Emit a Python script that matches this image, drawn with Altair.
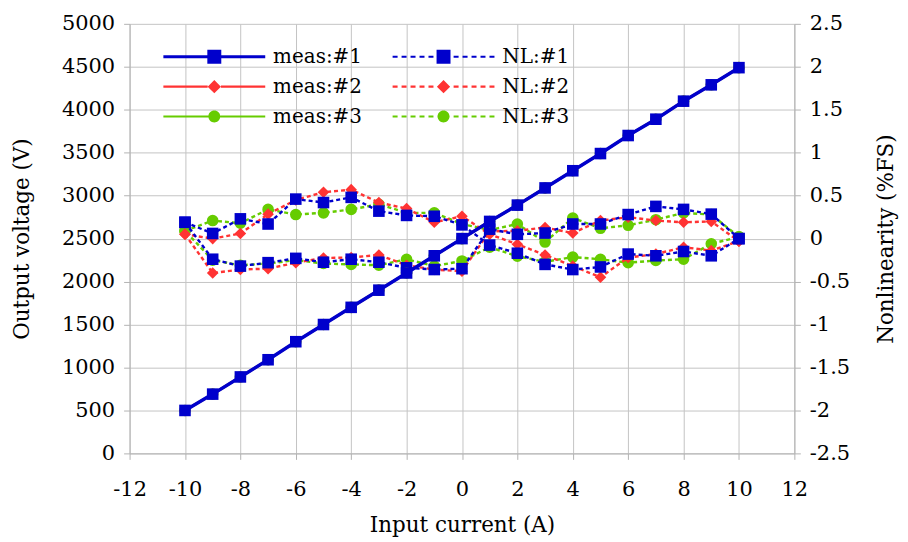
import altair as alt
import pandas as pd

# ---------------- data ----------------
x_vals = [-10, -9, -8, -7, -6, -5, -4, -3, -2, -1, 0, 1, 2, 3, 4, 5, 6, 7, 8, 9, 10]

meas1 = [500, 690, 890, 1090, 1300, 1500, 1700, 1900, 2100, 2300, 2500,
         2700, 2890, 3090, 3290, 3490, 3700, 3890, 4100, 4290, 4490]
meas2 = [500, 690, 890, 1090, 1300, 1500, 1700, 1900, 2100, 2300, 2500,
         2700, 2890, 3090, 3290, 3490, 3700, 3890, 4100, 4290, 4490]
meas3 = [500, 690, 890, 1090, 1300, 1500, 1700, 1900, 2100, 2300, 2500,
         2700, 2890, 3090, 3290, 3490, 3700, 3890, 4100, 4290, 4490]

# nonlinearity, two branches each (x = -10 .. 10)
nl1_a = [0.19, 0.06, 0.23, 0.17, 0.46, 0.42, 0.48, 0.32, 0.27, 0.26, 0.16,
         -0.075, -0.17, -0.30, -0.36, -0.33, -0.18, -0.20, -0.15, -0.20, 0.0]
nl1_b = [0.19, -0.24, -0.32, -0.28, -0.23, -0.275, -0.24, -0.275, -0.34, -0.36, -0.35,
         0.11, 0.05, 0.065, 0.17, 0.17, 0.28, 0.375, 0.34, 0.285, 0.0]

nl2_a = [0.05, 0.0, 0.06, 0.285, 0.45, 0.54, 0.57, 0.42, 0.35, 0.19, 0.26,
         0.05, -0.065, -0.19, -0.32, -0.45, -0.22, -0.18, -0.10, -0.14, -0.03]
nl2_b = [0.05, -0.40, -0.36, -0.35, -0.28, -0.225, -0.22, -0.19, -0.31, -0.36, -0.38,
         0.085, 0.09, 0.13, 0.065, 0.21, 0.25, 0.21, 0.19, 0.20, -0.03]

nl3_a = [0.09, 0.21, 0.18, 0.34, 0.28, 0.30, 0.34, 0.40, 0.30, 0.30, 0.17,
         0.10, 0.17, -0.04, 0.24, 0.12, 0.155, 0.22, 0.30, 0.28, 0.02]
nl3_b = [0.09, -0.25, -0.31, -0.29, -0.25, -0.29, -0.30, -0.31, -0.24, -0.32, -0.26,
         -0.10, -0.205, -0.27, -0.215, -0.24, -0.28, -0.255, -0.24, -0.06, 0.02]

# legend order (filled column by column: meas in column 1, NL in column 2)
series_names = ["meas:#1", "meas:#2", "meas:#3", "NL:#1", "NL:#2", "NL:#3"]
BLUE, RED, GREEN = "#0000cc", "#ff3333", "#66cc00"
series_colors = [BLUE, RED, GREEN, BLUE, RED, GREEN]

x_ticks = [-12, -10, -8, -6, -4, -2, 0, 2, 4, 6, 8, 10, 12]
left_ticks = [0, 500, 1000, 1500, 2000, 2500, 3000, 3500, 4000, 4500, 5000]
right_ticks = [-2.5, -2, -1.5, -1, -0.5, 0, 0.5, 1, 1.5, 2, 2.5]

FONT = "DejaVu Serif"


# ---------------- legend symbol paths (style only) ----------------
def f(v):
    return ("%.3f" % v).rstrip("0").rstrip(".")


def rect(x0, x1, h):
    return "M%s,%sH%sV%sH%sZ" % (f(x0), f(-h), f(x1), f(h), f(x0))


def legend_path(marker, dashed, thick_px):
    unit = 7.0
    half = 7.3
    h = thick_px / 2 / unit
    if marker == "square":
        m, mk = 1.0, "M-1,-1H1V1H-1Z"
    elif marker == "diamond":
        m, mk = 0.95, "M0,-0.95L0.95,0L0,0.95L-0.95,0Z"
    else:
        m, mk = 0.85, "M-0.85,0A0.85,0.85,0,1,1,0.85,0A0.85,0.85,0,1,1,-0.85,0Z"
    parts = []
    if not dashed:
        parts.append(rect(-half, -m, h))
        parts.append(rect(m, half, h))
    else:
        dash, gap = 5 / unit, 4 / unit
        x = -half
        while x < -m:
            parts.append(rect(x, min(x + dash, -m), h))
            parts.append(rect(-min(x + dash, -m), -x, h))
            x += dash + gap
    parts.append(mk)
    return "".join(parts)


legend_paths = [
    legend_path("square", False, 3.2),
    legend_path("diamond", False, 2.2),
    legend_path("circle", False, 2.2),
    legend_path("square", True, 2.2),
    legend_path("diamond", True, 2.2),
    legend_path("circle", True, 2.2),
]

# ---------------- scales / axes ----------------
xscale = alt.Scale(domain=[-12, 12], nice=False, zero=False)
yleft = alt.Scale(domain=[0, 5000], nice=False)
yright = alt.Scale(domain=[-2.5, 2.5], nice=False)

x_axis = alt.Axis(values=x_ticks, title="Input current (A)", grid=True,
                  labelExpr="datum.value + ''", tickSize=6, labelPadding=19,
                  labelFlush=False, titlePadding=15)
left_axis = alt.Axis(values=left_ticks, title="Output voltage (V)", grid=True,
                     orient="left", labelExpr="datum.value + ''", tickSize=6,
                     labelPadding=9, titlePadding=28)
right_axis = alt.Axis(values=right_ticks, title="Nonlinearity (%FS)", grid=False,
                      orient="right", labelExpr="datum.value + ''", tickSize=6,
                      labelPadding=9, titlePadding=26, titleAngle=270,
                      titleBaseline="top")


def meas_df(vals):
    return pd.DataFrame({"x": x_vals, "y": vals})


def nl_loop_df(a, b):
    xs = list(x_vals) + list(reversed(x_vals))
    ys = list(a) + list(reversed(b))
    return pd.DataFrame({"x": xs, "y": ys, "o": list(range(len(xs)))})


def meas_layers(vals, color, shape, width):
    df = meas_df(vals)
    base = alt.Chart(df)
    line = base.mark_line(color=color, strokeWidth=width).encode(
        x=alt.X("x:Q", scale=xscale, axis=x_axis),
        y=alt.Y("y:Q", scale=yleft, axis=left_axis),
    )
    pts = base.mark_point(shape=shape, filled=True, color=color, size=135, opacity=1).encode(
        x=alt.X("x:Q", scale=xscale, axis=x_axis),
        y=alt.Y("y:Q", scale=yleft, axis=left_axis),
    )
    return [line, pts]


def nl_layers(a, b, color, shape):
    df = nl_loop_df(a, b)
    base = alt.Chart(df)
    line = base.mark_line(color=color, strokeWidth=2.4, strokeDash=[4, 3]).encode(
        x=alt.X("x:Q", scale=xscale, axis=x_axis),
        y=alt.Y("y:Q", scale=yright, axis=right_axis),
        order="o:Q",
    )
    pts = base.mark_point(shape=shape, filled=True, color=color, size=135, opacity=1).encode(
        x=alt.X("x:Q", scale=xscale, axis=x_axis),
        y=alt.Y("y:Q", scale=yright, axis=right_axis),
    )
    return [line, pts]


legend_obj = alt.Legend(
    title=None, orient="none", legendX=75, legendY=23, columns=2,
    columnPadding=29, rowPadding=10, symbolSize=196, symbolStrokeWidth=0,
    labelOffset=49, labelFont=FONT, labelFontSize=20, labelColor="black",
    padding=0,
)

legend_df = pd.DataFrame({"series": series_names, "y": [None] * 6})
legend_layer = alt.Chart(legend_df).mark_point(filled=True, opacity=1).encode(
    y=alt.Y("y:Q", scale=yright, axis=right_axis),
    shape=alt.Shape("series:N", scale=alt.Scale(domain=series_names, range=legend_paths),
                    legend=legend_obj),
    color=alt.Color("series:N", scale=alt.Scale(domain=series_names, range=series_colors),
                    legend=legend_obj),
)

right_part = alt.layer(
    *nl_layers(nl3_a, nl3_b, GREEN, "circle"),
    *nl_layers(nl2_a, nl2_b, RED, "diamond"),
    *nl_layers(nl1_a, nl1_b, BLUE, "square"),
    legend_layer,
)
left_part = alt.layer(
    *meas_layers(meas3, GREEN, "circle", 2.5),
    *meas_layers(meas2, RED, "diamond", 2.5),
    *meas_layers(meas1, BLUE, "square", 3.5),
)

chart = alt.layer(right_part, left_part).resolve_scale(y="independent").properties(
    width=667, height=431, padding={"left": 3, "top": 4, "right": 3, "bottom": 0}
).configure_view(stroke=None).configure_axis(
    labelFont=FONT, labelFontSize=21, labelColor="black",
    titleFont=FONT, titleFontSize=21.5, titleFontWeight="normal", titleColor="black",
    gridColor="#c4c4c4", gridWidth=1, domainColor="#b3b3b3", tickColor="#b3b3b3",
    domainWidth=1, tickWidth=1,
)

chart.save("out.html", embed_options={"renderer": "svg", "actions": False})
